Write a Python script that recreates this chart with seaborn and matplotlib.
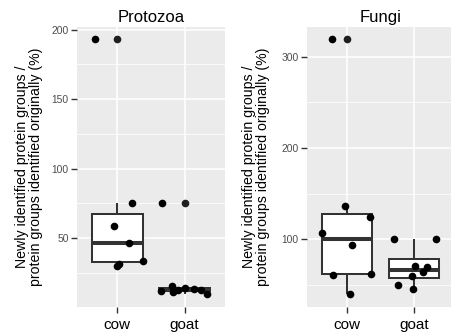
import numpy as np
import pandas as pd
import matplotlib
matplotlib.use("Agg")
import matplotlib.pyplot as plt
from matplotlib.ticker import MultipleLocator
import seaborn as sns

# ---- data ----
groups = ["cow", "goat"]
panel_titles = ["Protozoa", "Fungi"]
protozoa_cow = [193, 75, 59, 46.7, 33.6, 31.7, 30]
protozoa_goat = [75, 15.7, 14.3, 13.4, 12.6, 12.6, 11.9, 11.4, 9.8]
fungi_cow = [319, 136.5, 124.8, 107.3, 93.8, 61.7, 60.9, 40.1]
fungi_goat = [100, 100, 70.8, 69.3, 63.9, 59.8, 50, 45.6]
protozoa_major = [50, 100, 150, 200]
fungi_major = [100, 200, 300]
ylabel = "Newly identified protein groups /\nprotein groups identified originally (%)"


def make_df(a, b):
    return pd.DataFrame({
        "group": [groups[0]] * len(a) + [groups[1]] * len(b),
        "value": list(a) + list(b),
    })


frames = [make_df(protozoa_cow, protozoa_goat), make_df(fungi_cow, fungi_goat)]
majors = [protozoa_major, fungi_major]

sns.set_theme(style="darkgrid")
plt.rcParams["font.family"] = ["Liberation Sans", "DejaVu Sans"]

W, H = 451, 332
fig = plt.figure(figsize=(W / 100, H / 100), dpi=100)
fig.patch.set_facecolor("white")

top, bottom = 26.5, 306.7
axes_px = [(77, 148), (307, 147)]
label_x = [-0.232, -0.25]

np.random.seed(7)
for i, (df, title) in enumerate(zip(frames, panel_titles)):
    left, width = axes_px[i]
    ax = fig.add_axes([left / W, (H - bottom) / H, width / W, (bottom - top) / H])
    ax.set_facecolor("#EBEBEB")
    sns.boxplot(
        data=df, x="group", y="value", order=groups, ax=ax,
        color="white", linecolor="#333333", linewidth=1.45, width=0.75,
        showcaps=False, whis=1.5,
        medianprops=dict(linewidth=2.9, color="#333333"),
        flierprops=dict(marker="o", markerfacecolor="#1f1f1f",
                        markeredgecolor="none", markersize=5.5),
    )
    sns.stripplot(
        data=df, x="group", y="value", order=groups, ax=ax,
        color="black", size=5.5, jitter=0.4, linewidth=0, zorder=4,
    )
    ax.set_xlim(-0.6, 1.6)
    step = majors[i][1] - majors[i][0]
    ax.yaxis.set_major_locator(MultipleLocator(step))
    ax.yaxis.set_minor_locator(MultipleLocator(step / 2))
    ax.set_axisbelow(True)
    ax.grid(which="major", color="white", linewidth=1.15)
    ax.grid(which="minor", axis="y", color="white", linewidth=0.55)
    for s in ax.spines.values():
        s.set_visible(False)
    ax.tick_params(axis="y", which="major", length=4.2, width=1.0, color="#333333",
                   labelsize=7.4, labelcolor="#4D4D4D", pad=1.8, left=True)
    ax.tick_params(axis="y", which="minor", length=0, left=False)
    ax.tick_params(axis="x", length=4.0, width=1.0, color="#333333",
                   labelsize=11, labelcolor="black", pad=4.0, bottom=True)
    ax.set_xlabel("")
    ax.set_ylabel(ylabel, fontsize=10.2, color="black", linespacing=1.0)
    ax.yaxis.set_label_coords(label_x[i], 0.5)
    ax.set_title(title, fontsize=12, color="black", pad=3.0)

fig.savefig("out.png", dpi=100, facecolor="white")
